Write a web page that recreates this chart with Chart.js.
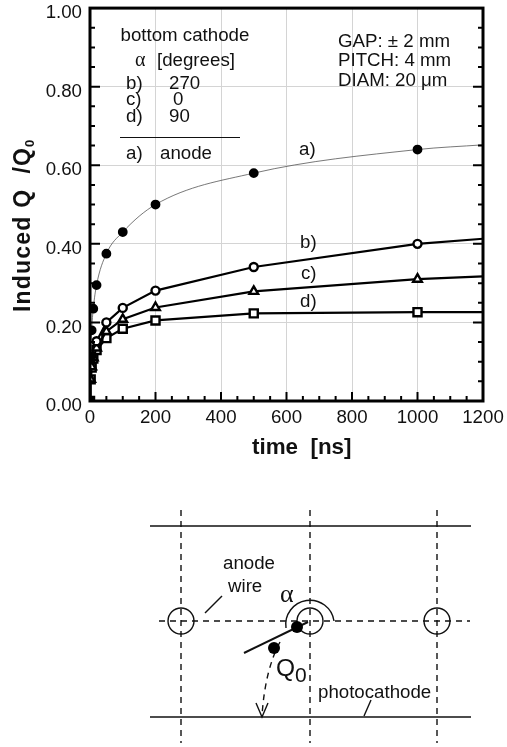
<!DOCTYPE html>
<html>
<head>
<meta charset="utf-8">
<style>
  html, body { margin: 0; padding: 0; background: #fff; }
  #wrap { position: relative; width: 507px; height: 747px; overflow: hidden; }
  canvas { position: absolute; left: 0; top: 0; }
  svg { position: absolute; left: 0; top: 0; }
  svg text { font-family: "Liberation Sans", Arial, sans-serif; font-size: 18.7px; fill: #111; }
</style>
<script src="https://cdn.jsdelivr.net/npm/chart.js@4"></script>
</head>
<body>
<div id="wrap">
  <canvas id="inducedChart" width="507" height="747"></canvas>
  <svg width="507" height="747" viewBox="0 0 507 747">
    <g stroke="#111" stroke-width="1.4" fill="none">
      <line x1="150" y1="526" x2="471" y2="526"/>
      <line x1="150" y1="717" x2="471" y2="717"/>
      <g stroke-dasharray="6 5">
        <line x1="181" y1="510" x2="181" y2="743"/>
        <line x1="310" y1="510" x2="310" y2="743"/>
        <line x1="437" y1="510" x2="437" y2="743"/>
        <line x1="159" y1="621" x2="470" y2="621"/>
        <path d="M280 642 Q265 670 262 716"/>
      </g>
      <circle cx="181" cy="621" r="13"/>
      <circle cx="310" cy="621" r="13"/>
      <circle cx="437" cy="621" r="13"/>
      <path d="M334 621 A24 24 0 1 0 286 628"/>
      <line x1="205" y1="613" x2="222" y2="596"/>
      <line x1="364" y1="716" x2="371" y2="700"/>
      <path d="M256 703 L262 717 L268 703"/>
      <line x1="244" y1="653" x2="308" y2="622" stroke-width="2"/>
    </g>
    <circle cx="297" cy="627" r="6" fill="#000"/>
    <circle cx="274" cy="648" r="6" fill="#000"/>
    <text x="223" y="569">anode</text>
    <text x="228" y="592">wire</text>
    <text x="280" y="602" style="font-family:'Liberation Serif';font-size:26px">α</text>
    <text x="276" y="676" style="font-size:24.5px">Q</text>
    <text x="295" y="682" style="font-size:21px">0</text>
    <text x="318" y="698">photocathode</text>
  </svg>
</div>
<script>
const times = [0, 2, 5, 10, 20, 50, 100, 200, 500, 1000, 1200];
const anode = [0, 0.113, 0.18, 0.235, 0.295, 0.375, 0.43, 0.5, 0.58, 0.64, 0.652];
const deg270 = [null, null, null, null, 0.152, 0.2, 0.237, 0.281, 0.341, 0.4, 0.413];
const deg0 = [null, 0.055, 0.087, 0.11, 0.135, 0.177, 0.208, 0.238, 0.279, 0.31, 0.317];
const deg90 = [0, 0.055, 0.085, 0.108, 0.13, 0.16, 0.184, 0.205, 0.223, 0.226, 0.226];
const xTicks = [0, 200, 400, 600, 800, 1000, 1200];
const yTicks = [0, 0.2, 0.4, 0.6, 0.8, 1];

const sans = '"Liberation Sans", Arial, sans-serif';

function toPoints(values) {
    return times.map((t, i) => ({ x: t, y: values[i] })).filter(p => p.y !== null);
}

// last point of each curve is only the line running out to the axis, no marker
function markerRadius(size) {
    return (ctx) => (ctx.raw && ctx.raw.x > 1000 ? 0 : size);
}

function curve(label, values, style, size, fill, lineWidth, lineColor, smooth) {
    return {
        label: label,
        data: toPoints(values),
        pointStyle: style,
        pointRadius: markerRadius(size),
        pointBackgroundColor: fill,
        pointBorderColor: "#000",
        pointBorderWidth: 2.4,
        borderColor: lineColor,
        borderWidth: lineWidth,
        cubicInterpolationMode: smooth ? "monotone" : "default",
        tension: 0,
        fill: false
    };
}

const notes = [
    ["bottom cathode", 120.5, 40.5],
    ["[degrees]", 157, 66],
    ["b)", 126, 89], ["270", 169, 89],
    ["c)", 126, 105], ["0", 173, 105],
    ["d)", 126, 122], ["90", 169, 122],
    ["a)", 126, 159], ["anode", 160, 159],
    ["a)", 299, 155],
    ["b)", 300, 248],
    ["c)", 301, 279],
    ["d)", 300, 306.5],
    ["GAP: ± 2 mm", 338, 46.5],
    ["PITCH: 4 mm", 338, 66],
    ["DIAM: 20 μm", 338, 86]
];

const framePlugin = {
    id: "frame",
    afterDraw(chart) {
        const { ctx, chartArea: area, scales } = chart;
        ctx.save();
        ctx.strokeStyle = "#000";

        // inward ticks, long on the labelled values
        ctx.lineWidth = 2;
        ctx.beginPath();
        for (let v = 0; v <= 1200; v += 50) {
            const px = scales.x.getPixelForValue(v);
            const len = v % 200 === 0 ? 9 : 5;
            ctx.moveTo(px, area.bottom);
            ctx.lineTo(px, area.bottom - len);
        }
        for (let i = 0; i <= 20; i++) {
            const py = scales.y.getPixelForValue(i * 0.05);
            const len = i % 4 === 0 ? 10 : 5;
            ctx.moveTo(area.left, py);
            ctx.lineTo(area.left + len, py);
            ctx.moveTo(area.right, py);
            ctx.lineTo(area.right - len, py);
        }
        ctx.stroke();

        ctx.lineWidth = 3;
        ctx.strokeRect(area.left, area.top, area.right - area.left, area.bottom - area.top);

        ctx.fillStyle = "#111";
        ctx.textBaseline = "alphabetic";
        ctx.textAlign = "left";
        ctx.font = "18.7px " + sans;
        notes.forEach(n => ctx.fillText(n[0], n[1], n[2]));
        ctx.font = '20px "Liberation Serif", serif';
        ctx.fillText("α", 135, 66);

        ctx.lineWidth = 1;
        ctx.strokeStyle = "#111";
        ctx.beginPath();
        ctx.moveTo(120, 137.5);
        ctx.lineTo(240, 137.5);
        ctx.stroke();

        ctx.font = "bold 22.4px " + sans;
        ctx.fillText("time  [ns]", 252, 454);

        // y title has a subscript so it is drawn here
        ctx.translate(30, 312);
        ctx.rotate(-Math.PI / 2);
        ctx.font = "bold 23px " + sans;
        ctx.letterSpacing = "1.2px";
        ctx.fillText("Induced Q  /Q", 0, 0);
        const w = ctx.measureText("Induced Q  /Q").width;
        ctx.letterSpacing = "0px";
        ctx.font = "bold 13px " + sans;
        ctx.fillText("0", w, 4);
        ctx.restore();
    }
};

new Chart(document.getElementById("inducedChart").getContext("2d"), {
    type: "line",
    data: {
        datasets: [
            curve("a) anode", anode, "circle", 3.7, "#000", 0.8, "#555", true),
            curve("b) 270", deg270, "circle", 4, "#fff", 2.2, "#000", false),
            curve("c) 0", deg0, "triangle", 5, "#fff", 2.2, "#000", false),
            curve("d) 90", deg90, "rect", 5.7, "#fff", 2.2, "#000", false)
        ]
    },
    options: {
        responsive: false,
        animation: false,
        layout: { padding: { left: 0, top: 6.5, right: 24, bottom: 286 } },
        plugins: { legend: { display: false }, tooltip: { enabled: false } },
        scales: {
            x: {
                type: "linear",
                min: 0,
                max: 1200,
                afterBuildTicks: (axis) => { axis.ticks = xTicks.map(v => ({ value: v })); },
                afterFit: (axis) => {
                    axis.height = 60;
                    axis.paddingLeft = 0;
                    axis.paddingRight = 0;
                },
                grid: { color: "#d4d4d4", lineWidth: 1, drawTicks: false },
                border: { display: false },
                ticks: {
                    color: "#111",
                    padding: 6,
                    maxRotation: 0,
                    font: { family: sans, size: 18.7 },
                    callback: (v) => String(v)
                }
            },
            y: {
                min: 0,
                max: 1,
                afterBuildTicks: (axis) => { axis.ticks = yTicks.map(v => ({ value: v })); },
                afterFit: (axis) => {
                    axis.width = 90;
                    axis.paddingTop = 0;
                    axis.paddingBottom = 0;
                },
                grid: { color: "#d4d4d4", lineWidth: 1, drawTicks: false },
                border: { display: false },
                ticks: {
                    color: "#111",
                    padding: 8,
                    labelOffset: 5,
                    font: { family: sans, size: 18.7 },
                    callback: (v) => v.toFixed(2)
                }
            }
        }
    },
    plugins: [framePlugin]
});
</script>
</body>
</html>
